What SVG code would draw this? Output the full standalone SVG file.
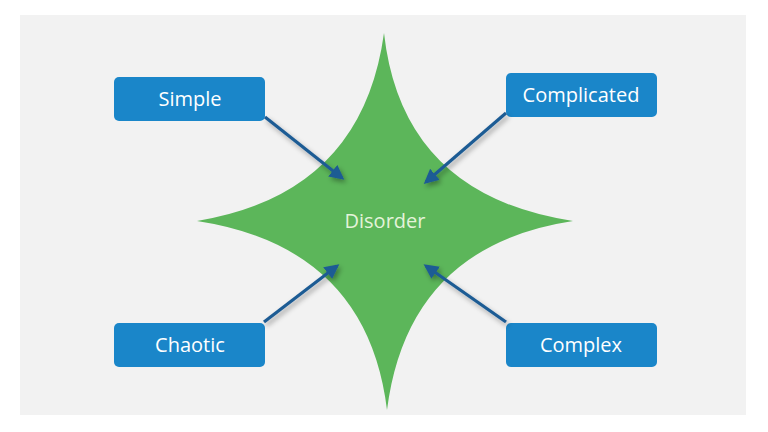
<svg xmlns="http://www.w3.org/2000/svg" width="768" height="432" viewBox="0 0 768 432">
<defs>
<style>
.box{fill:#1a86c9;}
.lbl{font-family:"Open Sans","Liberation Sans",sans-serif;font-size:20px;fill:#ffffff;text-anchor:middle;}
.conn{stroke:#1f5b94;stroke-width:3.2;fill:none;marker-end:url(#ah);filter:url(#sh);}
</style>
<marker id="ah" viewBox="0 0 10 10" refX="8" refY="5" markerWidth="4.6" markerHeight="4.6" orient="auto" markerUnits="strokeWidth">
<path d="M0,0 L10,5 L0,10 z" fill="#1f5b94"/>
</marker>
<filter id="sh" x="-30%" y="-30%" width="160%" height="160%">
<feDropShadow dx="2" dy="3" stdDeviation="2.5" flood-color="#000" flood-opacity="0.35"/>
</filter>
</defs>
<rect x="0" y="0" width="768" height="432" fill="#ffffff"/>
<rect x="20" y="15" width="726" height="400" fill="#f2f2f2"/>
<g id="disorder">
<path d="M384,33 Q402,195 573,221 Q408,246 387,410 Q367,247 197,221 Q362,194 384,33 Z" fill="#5cb65a"/>
<text class="lbl" x="385" y="228" style="fill:#e4f3da">Disorder</text>
</g>
<g id="simple">
<rect class="box" x="114" y="77" width="151" height="44" rx="5"/>
<text class="lbl" x="190" y="106">Simple</text>
</g>
<g id="complicated">
<rect class="box" x="506" y="73" width="151" height="44" rx="5"/>
<text class="lbl" x="581" y="102">Complicated</text>
</g>
<g id="chaotic">
<rect class="box" x="114" y="323" width="151" height="44" rx="5"/>
<text class="lbl" x="190" y="352">Chaotic</text>
</g>
<g id="complex">
<rect class="box" x="506" y="323" width="151" height="44" rx="5"/>
<text class="lbl" x="581" y="352">Complex</text>
</g>
<g id="connectors">
<line class="conn" x1="265" y1="117" x2="342" y2="178"/>
<line class="conn" x1="506" y1="113" x2="426" y2="182"/>
<line class="conn" x1="264" y1="322" x2="337" y2="266"/>
<line class="conn" x1="506" y1="322" x2="426" y2="266"/>
</g>
</svg>
